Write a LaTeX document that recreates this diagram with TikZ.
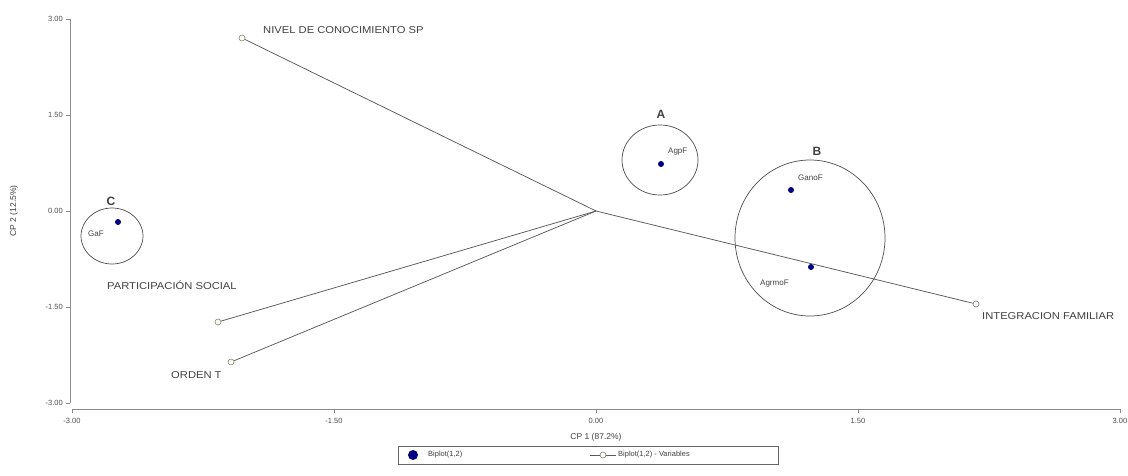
\documentclass[tikz,border=0pt]{standalone}
\usepackage{fontspec}
\setmainfont{Liberation Sans}
\newfontfamily\widefont[FakeStretch=1.12]{Liberation Sans}
\begin{document}
\begin{tikzpicture}[x=1pt,y=-1pt,
  axis/.style={draw=black!45,line width=0.9pt},
  tick/.style={draw=black!45,line width=0.8pt},
  ticklab/.style={font=\fontsize{7.5}{9}\selectfont,text=black!70,inner sep=0pt},
  vec/.style={draw=black!65,line width=0.75pt},
  endpt/.style={circle,draw=black!50,fill=yellow!8,line width=0.6pt,minimum size=6pt,inner sep=0pt},
  varlab/.style={font=\widefont\fontsize{10}{12}\selectfont,text=black!75,inner sep=0pt,anchor=west},
  dot/.style={circle,fill=blue!50!black,minimum size=6pt,inner sep=0pt},
  ptlab/.style={font=\fontsize{8}{9}\selectfont,text=black!75,inner sep=0pt,anchor=west},
  leglab/.style={font=\fontsize{7.5}{9}\selectfont,text=black!75,inner sep=0pt,anchor=west},
  grp/.style={draw=black!70,line width=0.7pt},
  grplab/.style={font=\fontsize{12}{14}\selectfont\bfseries,text=black!75,inner sep=0pt}]
\useasboundingbox (0,0) rectangle (1128,476);
% axes
\draw[axis] (70,19) -- (70,403);
\draw[axis] (72,409) -- (1121,409);
\foreach \y/\l in {19/3.00,115/1.50,211/0.00,307/-1.50,403/-3.00}{
  \draw[tick] (66,\y) -- (70,\y);
  \node[ticklab,anchor=east] at (63,\y) {\l};
}
\foreach \x/\l in {72/-3.00,334/-1.50,596/0.00,858/1.50,1120/3.00}{
  \draw[tick] (\x,409) -- (\x,413);
  \node[ticklab] at (\x,421) {\l};
}
\node[font=\fontsize{8.5}{10}\selectfont,text=black!75,rotate=90] (ylab) at (14,211) {CP 2 (12.5\%)};
\node[font=\fontsize{8.5}{10}\selectfont,text=black!75] (xlab) at (596,437) {CP 1 (87.2\%)};
% group circles
\draw[grp] (660,160) ellipse (38 and 35);
\draw[grp] (810,238) ellipse (75 and 78);
\draw[grp] (112,236) ellipse (31 and 28);
\node[grplab] (gA) at (661,114) {A};
\node[grplab] (gB) at (817,151) {B};
\node[grplab] (gC) at (111,201) {C};
% vectors
\coordinate (o) at (596,211);
\node[endpt] (v1) at (242,38) {};
\node[endpt] (v2) at (976,304) {};
\node[endpt] (v3) at (218,322) {};
\node[endpt] (v4) at (231,362) {};
\draw[vec] (o) -- (v1);
\draw[vec] (o) -- (v2);
\draw[vec] (o) -- (v3);
\draw[vec] (o) -- (v4);
\node[varlab] (l1) at (263,30) {NIVEL DE CONOCIMIENTO SP};
\node[varlab] (l2) at (982,316) {INTEGRACION FAMILIAR};
\node[varlab] (l3) at (107,285) {PARTICIPACIÓN SOCIAL};
\node[varlab] (l4) at (171,375) {ORDEN T};
% points
\node[dot] (p1) at (661,164) {};
\node[dot] (p2) at (791,190) {};
\node[dot] (p3) at (811,267) {};
\node[dot] (p4) at (118,222) {};
\node[ptlab] (t1) at (668,152) {AgpF};
\node[ptlab] (t2) at (798,178) {GanoF};
\node[ptlab] (t3) at (760,284) {AgrmoF};
\node[ptlab] (t4) at (88,234) {GaF};
% legend
\draw[draw=black!60,line width=0.6pt] (398,446) rectangle (778,464);
\node[circle,fill=blue!50!black,minimum size=10pt,inner sep=0pt] (lg1) at (413,455) {};
\node[leglab] (lt1) at (428,455) {Biplot(1,2)};
\coordinate (la) at (590,455);
\coordinate (lb) at (616,455);
\draw[vec] (la) -- (lb);
\node[endpt] (lg2) at (603,455) {};
\node[leglab] (lt2) at (618,455) {Biplot(1,2) - Variables};
\end{tikzpicture}
\end{document}
